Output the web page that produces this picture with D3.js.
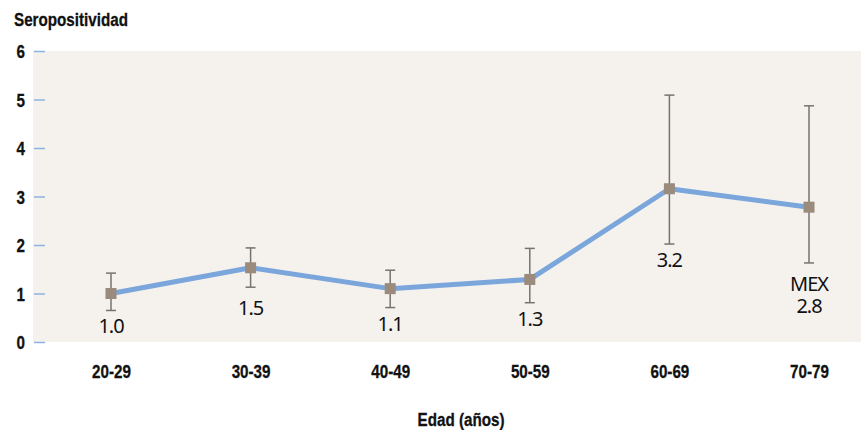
<!DOCTYPE html>
<html>
<head>
<meta charset="utf-8">
<script src="https://cdn.jsdelivr.net/npm/d3@7"></script>
<style>
  body { margin: 0; background: #fff; }
  svg { display: block; }
  .axis-title, .tick-label { font-family: "Liberation Sans", Arial, sans-serif; font-weight: bold; fill: #111; stroke: #111; stroke-width: 0.3; }
  .value-label { font-family: "Noto Sans", sans-serif; fill: #111; }
</style>
</head>
<body>
<svg id="chart"></svg>
<script>
let categories = ['20-29', '30-39', '40-49', '50-59', '60-69', '70-79']
let values = [1.0, 1.53, 1.1, 1.29, 3.16, 2.78]
let lower = [0.65, 1.13, 0.71, 0.81, 2.02, 1.63]
let upper = [1.42, 1.94, 1.48, 1.93, 5.09, 4.87]
let valueLabels = ['1.0', '1.5', '1.1', '1.3', '3.2', '2.8']
let labelPrefix = ['', '', '', '', '', 'MEX']
let yTicks = [0, 1, 2, 3, 4, 5, 6]

let width = 861
let height = 430
let squeeze = 0.8   // the original uses a condensed bold face

let svg = d3.select('#chart')
            .attr('width', width)
            .attr('height', height)

let xScale = d3.scalePoint()
               .domain(categories)
               .range([111, 809])

let yScale = d3.scaleLinear()
               .domain([0, 6])
               .range([342, 51])

// plot background
svg.append('rect')
   .attr('x', 33)
   .attr('y', yScale(6))
   .attr('width', width - 33)
   .attr('height', yScale(0) - yScale(6))
   .attr('fill', '#f5f2ee')

// y axis: blue tick marks and bold numbers
let yAxis = d3.axisLeft(yScale)
              .tickValues(yTicks)
              .tickSize(11)
              .tickFormat(d3.format('d'))

let yG = svg.append('g')
            .attr('transform', 'translate(45,0)')
            .call(yAxis)
yG.select('.domain').remove()
yG.selectAll('.tick line').attr('stroke', '#8db2e0').attr('stroke-width', 1.5)
yG.selectAll('.tick text')
  .attr('class', 'tick-label')
  .attr('font-size', 19)
  .attr('x', -20 / squeeze)
  .attr('dy', '0.36em')
  .attr('transform', 'scale(' + squeeze + ',1)')

// x axis labels
let xAxis = d3.axisBottom(xScale).tickSize(0).tickPadding(0)
let xG = svg.append('g')
            .attr('transform', 'translate(0,378)')
            .call(xAxis)
xG.select('.domain').remove()
xG.selectAll('.tick text')
  .attr('class', 'tick-label')
  .attr('font-size', 19)
  .attr('y', 0)
  .attr('dy', 0)
  .attr('transform', 'scale(' + squeeze + ',1)')

// error bars
let bars = svg.append('g')
categories.forEach((c, i) => {
    let x = xScale(c)
    bars.append('line')
        .attr('x1', x).attr('x2', x)
        .attr('y1', yScale(upper[i])).attr('y2', yScale(lower[i]))
        .attr('stroke', '#767270').attr('stroke-width', 1.5)
    ;[upper[i], lower[i]].forEach(v => {
        bars.append('line')
            .attr('x1', x - 5).attr('x2', x + 5)
            .attr('y1', yScale(v)).attr('y2', yScale(v))
            .attr('stroke', '#767270').attr('stroke-width', 1.5)
    })
})

// line
let line = d3.line()
             .x((d, i) => xScale(categories[i]))
             .y(d => yScale(d))

svg.append('path')
   .datum(values)
   .attr('d', line)
   .attr('fill', 'none')
   .attr('stroke', '#7ba6db')
   .attr('stroke-width', 5)
   .attr('stroke-linejoin', 'round')

// markers
svg.selectAll('.marker')
   .data(values)
   .enter()
   .append('rect')
   .attr('class', 'marker')
   .attr('x', (d, i) => xScale(categories[i]) - 5.5)
   .attr('y', d => yScale(d) - 5.5)
   .attr('width', 11)
   .attr('height', 11)
   .attr('fill', '#9a8b7c')

// value labels below the error bars (MEX sits on its own line above 2.8)
let labels = svg.selectAll('.value-label')
   .data(valueLabels)
   .enter()
   .append('text')
   .attr('class', 'value-label')
   .attr('x', (d, i) => xScale(categories[i]))
   .attr('y', (d, i) => yScale(lower[i]) + (labelPrefix[i] ? 28 : i == 1 ? 28 : 23))
   .attr('text-anchor', 'middle')
   .attr('font-size', 20)
   .attr('letter-spacing', -1)

labels.each(function(d, i) {
    let t = d3.select(this)
    if (labelPrefix[i]) {
        t.append('tspan').text(labelPrefix[i])
        t.append('tspan').attr('x', xScale(categories[i])).attr('dy', 22).text(d)
    } else {
        t.text(d)
    }
})

// titles
svg.append('text')
   .attr('class', 'axis-title')
   .attr('transform', 'translate(14,26) scale(' + squeeze + ',1)')
   .attr('font-size', 19)
   .text('Seropositividad')

svg.append('text')
   .attr('class', 'axis-title')
   .attr('transform', 'translate(461,426) scale(' + squeeze + ',1)')
   .attr('text-anchor', 'middle')
   .attr('font-size', 19)
   .text('Edad (años)')
</script>
</body>
</html>
